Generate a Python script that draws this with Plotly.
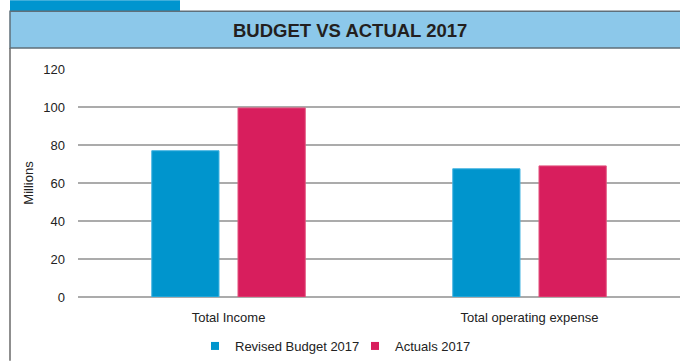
import plotly.graph_objects as go

# Chart data (millions)
categories = ["Total Income", "Total operating expense"]
series_names = ["Revised Budget 2017", "Actuals 2017"]
revised_budget_2017 = [77, 67.5]
actuals_2017 = [99.5, 69]
y_ticks = [0, 20, 40, 60, 80, 100, 120]

BLUE = "#0095cd"
PINK = "#d81e5d"

W, H = 680, 361
M_L, M_R, M_T, M_B = 78, 0, 69, 63
PLOT_H = H - M_T - M_B
PLOT_W = W - M_L - M_R


def py(pix):
    """Convert a pixel row (from top) to paper y."""
    return (H - M_B - pix) / PLOT_H


def px(pix):
    """Convert a pixel column (from left) to paper x."""
    return (pix - M_L) / PLOT_W


BASE_FONT = "Liberation Sans, Arial, sans-serif"

fig = go.Figure()
for name, values, color, edge in [
    (series_names[0], revised_budget_2017, BLUE, "#45b4e2"),
    (series_names[1], actuals_2017, PINK, "#e2557f"),
]:
    fig.add_trace(go.Bar(name=name, x=categories, y=values, showlegend=False,
                         marker=dict(color=color, line=dict(color=edge, width=1))))

# small square legend keys
for name, color in [(series_names[0], BLUE), (series_names[1], PINK)]:
    fig.add_trace(go.Scatter(name=name, x=[None], y=[None], mode="markers",
                             marker=dict(symbol="square", size=8, color=color)))

shapes = [
    # top tab
    dict(type="rect", xref="paper", yref="paper", x0=px(10), x1=px(180), y0=py(0), y1=py(11),
         fillcolor="#0095cf", line=dict(width=0), layer="below"),
    # title band
    dict(type="rect", xref="paper", yref="paper", x0=px(10), x1=px(681), y0=py(11), y1=py(48),
         fillcolor="#8cc8ea", line=dict(color="#5f6f7a", width=1.5), layer="below"),
    # left frame line
    dict(type="line", xref="paper", yref="paper", x0=px(10), x1=px(10), y0=py(48), y1=py(362),
         line=dict(color="#6a6a6a", width=1.5)),
]

fig.update_layout(
    width=W, height=H,
    margin=dict(l=M_L, r=M_R, t=M_T, b=M_B),
    paper_bgcolor="white", plot_bgcolor="white",
    barmode="group", bargap=0.427, bargroupgap=0.22,
    shapes=shapes,
    font=dict(family=BASE_FONT, size=13, color="#222222"),
    showlegend=True,
    legend=dict(orientation="h", xanchor="center", yanchor="middle",
                x=px(355), y=py(347), font=dict(size=13), traceorder="normal",
                itemwidth=30, entrywidth=115, entrywidthmode="pixels",
                bgcolor="rgba(0,0,0,0)"),
    annotations=[
        dict(text="<b>BUDGET VS ACTUAL 2017</b>", xref="paper", yref="paper",
             x=px(350), y=py(30), xanchor="center", yanchor="middle", showarrow=False,
             font=dict(family=BASE_FONT, size=18.5, color="#231f20")),
    ],
)
fig.update_xaxes(range=[-0.5, 1.5], showgrid=False, showline=False, ticks="",
                 tickfont=dict(size=13), ticklabelstandoff=11)
fig.update_yaxes(range=[0, 120], tickvals=y_ticks, showgrid=True, gridcolor="#ababab",
                 gridwidth=1.5, zeroline=True, zerolinecolor="#ababab", zerolinewidth=1.5,
                 showline=False, ticks="", tickfont=dict(size=13), ticklabelstandoff=12,
                 title=dict(text="Millions", font=dict(size=13), standoff=6))

fig.write_html("out.html")
